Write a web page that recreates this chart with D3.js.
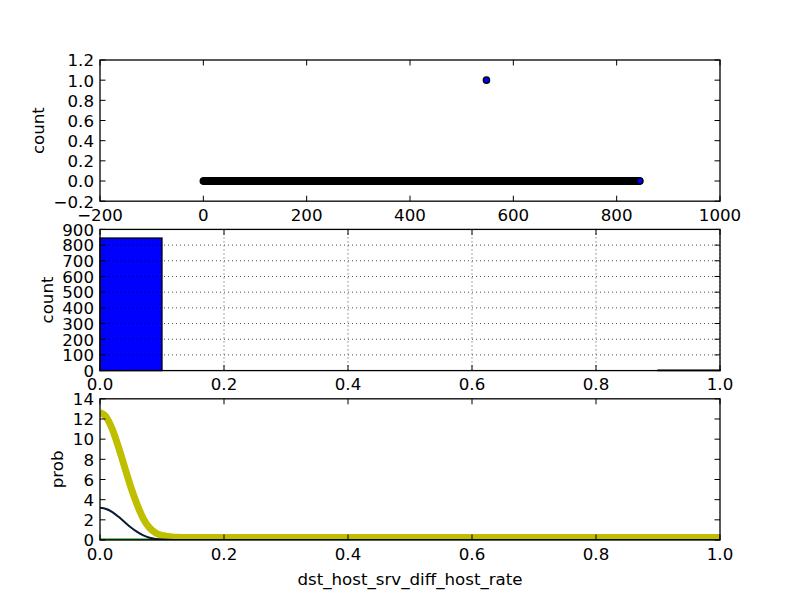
<!DOCTYPE html>
<html>
<head>
<meta charset="utf-8">
<script src="https://cdn.jsdelivr.net/npm/d3@7"></script>
<style>
    body { margin: 0; background: #fff; }
    text { font-family: "DejaVu Sans", sans-serif; font-size: 16.67px; fill: #000; }
</style>
</head>
<body>
<svg id="chart" width="800" height="600"></svg>
<script>
// ---- data ----
const rowCount = 846;                 // rows 0..845 plotted at count 0
const outlierRows = [548];
const outlierCounts = [1];

const binEdges = [0.0, 0.1, 0.2, 0.3, 0.4, 0.5, 0.6, 0.7, 0.8, 0.9, 1.0];
const binCounts = [845, 0, 0, 0, 0, 0, 0, 0, 0, 3];

const kdeX = [0, 0.01, 0.02, 0.03, 0.04, 0.05, 0.06, 0.07, 0.08, 0.09, 0.10, 0.12, 0.15, 0.2, 0.3, 0.4, 0.5, 0.6, 0.7, 0.8, 0.9, 1.0];
const kdeYellow = [12.65, 12.2, 10.96, 9.18, 7.17, 5.2, 3.5, 2.1, 1.2, 0.7, 0.45, 0.28, 0.24, 0.24, 0.24, 0.24, 0.24, 0.24, 0.24, 0.24, 0.24, 0.24];
const kdeDark = [3.2, 3.08, 2.77, 2.3, 1.76, 1.24, 0.8, 0.45, 0.22, 0.1, 0.04, 0, 0, 0, 0, 0, 0, 0, 0, 0, 0, 0];
const kdeGreen = [0, 0, 0, 0, 0, 0, 0, 0, 0, 0, 0, 0, 0, 0, 0, 0, 0, 0, 0, 0, 0, 0];

const scatterXTicks = [-200, 0, 200, 400, 600, 800, 1000];
const scatterYTicks = [-0.2, 0.0, 0.2, 0.4, 0.6, 0.8, 1.0, 1.2];
const unitXTicks = [0.0, 0.2, 0.4, 0.6, 0.8, 1.0];
const histYTicks = [0, 100, 200, 300, 400, 500, 600, 700, 800, 900];
const probYTicks = [0, 2, 4, 6, 8, 10, 12, 14];

// ---- layout ----
const svg = d3.select("#chart");
const left = 100, right = 720;
const axH = 480 / 3.4, gap = axH * 0.2;
const tops = [60, 60 + axH + gap, 60 + 2 * (axH + gap)];
const tickLen = 5.5;
const minus = s => s.replace("-", "\u2212");

function frame(top, x, y, xTicks, yTicks, xFmt, yFmt, yLabel, grid) {
    const g = svg.append("g");
    const bottom = top + axH;

    if (grid) {
        xTicks.forEach(t => {
            g.append("line")
                .attr("x1", x(t)).attr("x2", x(t))
                .attr("y1", top).attr("y2", bottom)
                .attr("stroke", "#000").attr("stroke-width", 0.7)
                .attr("stroke-dasharray", "1,3");
        });
        yTicks.forEach(t => {
            g.append("line")
                .attr("x1", left).attr("x2", right)
                .attr("y1", y(t)).attr("y2", y(t))
                .attr("stroke", "#000").attr("stroke-width", 0.7)
                .attr("stroke-dasharray", "1,3");
        });
    }

    // Spines
    g.append("rect")
        .attr("x", left).attr("y", top)
        .attr("width", right - left).attr("height", axH)
        .attr("fill", "none").attr("stroke", "#000").attr("stroke-width", 1.3);

    // Inward ticks on all sides
    xTicks.forEach(t => {
        g.append("line").attr("x1", x(t)).attr("x2", x(t))
            .attr("y1", bottom).attr("y2", bottom - tickLen).attr("stroke", "#000");
        g.append("line").attr("x1", x(t)).attr("x2", x(t))
            .attr("y1", top).attr("y2", top + tickLen).attr("stroke", "#000");
        g.append("text")
            .attr("x", x(t)).attr("y", bottom + 19.5)
            .attr("text-anchor", "middle")
            .text(minus(xFmt(t)));
    });

    const yLabels = [];
    yTicks.forEach(t => {
        g.append("line").attr("x1", left).attr("x2", left + tickLen)
            .attr("y1", y(t)).attr("y2", y(t)).attr("stroke", "#000");
        g.append("line").attr("x1", right).attr("x2", right - tickLen)
            .attr("y1", y(t)).attr("y2", y(t)).attr("stroke", "#000");
        yLabels.push(g.append("text")
            .attr("x", left - 6).attr("y", y(t))
            .attr("dy", "0.38em")
            .attr("text-anchor", "end")
            .text(minus(yFmt(t))));
    });

    // y label sits just left of the widest tick label
    const minLeft = d3.min(yLabels, t => t.node().getBBox().x);
    const lx = minLeft - 5.6 - 4;
    g.append("text")
        .attr("transform", `translate(${lx},${top + axH / 2}) rotate(-90)`)
        .attr("text-anchor", "middle")
        .text(yLabel);
}

// ---- top: scatter ----
{
    const top = tops[0];
    const x = d3.scaleLinear().domain([-200, 1000]).range([left, right]);
    const y = d3.scaleLinear().domain([-0.2, 1.2]).range([top + axH, top]);

    const points = d3.range(rowCount).map(i => {
        const k = outlierRows.indexOf(i);
        return { x: i, y: k >= 0 ? outlierCounts[k] : 0 };
    });

    svg.append("g").selectAll("circle")
        .data(points)
        .join("circle")
        .attr("cx", d => x(d.x))
        .attr("cy", d => y(d.y))
        .attr("r", 3.1)
        .attr("fill", "#0000ff")
        .attr("stroke", "#000")
        .attr("stroke-width", 1.4);

    frame(top, x, y, scatterXTicks, scatterYTicks, d3.format("d"), d3.format(".1f"), "count", false);
}

// ---- middle: histogram ----
{
    const top = tops[1];
    const x = d3.scaleLinear().domain([0, 1]).range([left, right]);
    const y = d3.scaleLinear().domain([0, 900]).range([top + axH, top]);

    svg.append("g").selectAll("rect")
        .data(binCounts)
        .join("rect")
        .attr("x", (d, i) => x(binEdges[i]))
        .attr("width", (d, i) => x(binEdges[i + 1]) - x(binEdges[i]))
        .attr("y", d => y(d))
        .attr("height", d => y(0) - y(d))
        .attr("fill", "#0000ff")
        .attr("stroke", "#000")
        .attr("stroke-width", d => d > 0 ? 1.3 : 0);

    frame(top, x, y, unitXTicks, histYTicks, d3.format(".1f"), d3.format("d"), "count", true);
}

// ---- bottom: density ----
{
    const top = tops[2];
    const x = d3.scaleLinear().domain([0, 1]).range([left, right]);
    const y = d3.scaleLinear().domain([0, 14]).range([top + axH, top]);

    svg.append("clipPath").attr("id", "clipKde")
        .append("rect")
        .attr("x", left).attr("y", top)
        .attr("width", right - left).attr("height", axH);

    const line = d3.line()
        .x((d, i) => x(kdeX[i]))
        .y(d => y(d))
        .curve(d3.curveMonotoneX);

    const lines = svg.append("g").attr("clip-path", "url(#clipKde)");

    lines.append("path")
        .attr("d", line(kdeGreen))
        .attr("fill", "none").attr("stroke", "#008000").attr("stroke-width", 2.8);

    lines.append("path")
        .attr("d", line(kdeYellow))
        .attr("fill", "none").attr("stroke", "#bfbf00").attr("stroke-width", 7);

    lines.append("path")
        .attr("d", line(kdeDark))
        .attr("fill", "none").attr("stroke", "#0a1a33").attr("stroke-width", 2);

    frame(top, x, y, unitXTicks, probYTicks, d3.format(".1f"), d3.format("d"), "prob", false);

    svg.append("text")
        .attr("x", (left + right) / 2)
        .attr("y", 585)
        .attr("text-anchor", "middle")
        .text("dst_host_srv_diff_host_rate");
}
</script>
</body>
</html>
